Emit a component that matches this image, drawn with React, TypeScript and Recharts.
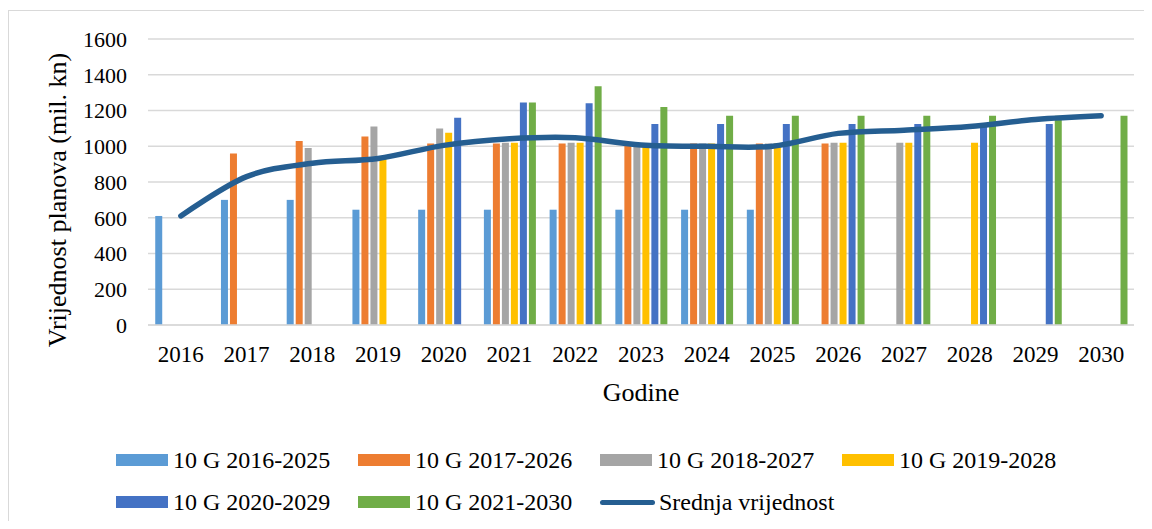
import { ComposedChart, Bar, Line, XAxis, YAxis, CartesianGrid } from 'recharts';

const FONT = "'Liberation Serif', 'Times New Roman', serif";

const years = ['2016', '2017', '2018', '2019', '2020', '2021', '2022', '2023', '2024', '2025', '2026', '2027', '2028', '2029', '2030'];
const yTicks = [0, 200, 400, 600, 800, 1000, 1200, 1400, 1600];

const plan2016 = [610, 700, 700, 645, 645, 645, 645, 645, 645, 645, null, null, null, null, null];
const plan2017 = [null, 960, 1030, 1055, 1015, 1015, 1015, 1015, 1015, 1015, 1015, null, null, null, null];
const plan2018 = [null, null, 990, 1110, 1100, 1020, 1020, 1015, 1015, 1015, 1020, 1020, null, null, null];
const plan2019 = [null, null, null, 930, 1075, 1020, 1020, 1015, 1015, 1015, 1020, 1020, 1020, null, null];
const plan2020 = [null, null, null, null, 1160, 1245, 1240, 1125, 1125, 1125, 1125, 1125, 1125, 1125, null];
const plan2021 = [null, null, null, null, null, 1245, 1335, 1220, 1170, 1170, 1170, 1170, 1170, 1170, 1170];
const average = [610, 830, 905, 932, 1005, 1042, 1048, 1007, 1000, 1000, 1072, 1090, 1110, 1150, 1171];

// bar series: key, legend name, colour
const barSeries = [
  { key: 'p2016', name: '10 G 2016-2025', color: '#5B9BD5', values: plan2016 },
  { key: 'p2017', name: '10 G 2017-2026', color: '#ED7D31', values: plan2017 },
  { key: 'p2018', name: '10 G 2018-2027', color: '#A5A5A5', values: plan2018 },
  { key: 'p2019', name: '10 G 2019-2028', color: '#FFC000', values: plan2019 },
  { key: 'p2020', name: '10 G 2020-2029', color: '#4472C4', values: plan2020 },
  { key: 'p2021', name: '10 G 2021-2030', color: '#70AD47', values: plan2021 },
];
const LINE_NAME = 'Srednja vrijednost';
const LINE_COLOR = '#255E91';

const chartData = years.map((year, i) => {
  const row: Record<string, string | number | null> = { year, avg: average[i] };
  barSeries.forEach((s) => {
    row[s.key] = s.values[i];
  });
  return row;
});

// Catmull-Rom style smoothing (like Excel's "smoothed line"), as a d3-style curve factory
function smoothCurve(context: any) {
  const k = 1 / 6;
  let x0 = NaN, y0 = NaN, x1 = NaN, y1 = NaN, x2 = NaN, y2 = NaN;
  let pt = 0;
  let line = NaN;
  const seg = (x: number, y: number) => {
    context.bezierCurveTo(x1 + k * (x2 - x0), y1 + k * (y2 - y0), x2 + k * (x1 - x), y2 + k * (y1 - y), x2, y2);
  };
  return {
    areaStart() { line = 0; },
    areaEnd() { line = NaN; },
    lineStart() { x0 = x1 = x2 = y0 = y1 = y2 = NaN; pt = 0; },
    lineEnd() {
      if (pt === 2) context.lineTo(x2, y2);
      else if (pt === 3) seg(x1, y1);
      if (line || (line !== 0 && pt === 1)) context.closePath();
      line = 1 - line;
    },
    point(x: number, y: number) {
      x = +x; y = +y;
      if (pt === 0) {
        pt = 1;
        if (line) context.lineTo(x, y);
        else context.moveTo(x, y);
      } else if (pt === 1) {
        pt = 2;
        x1 = x; y1 = y;
      } else {
        pt = 3;
        seg(x, y);
      }
      x0 = x1; x1 = x2; x2 = x;
      y0 = y1; y1 = y2; y2 = y;
    },
  };
}

function renderYTitle(props: any) {
  const { viewBox } = props;
  const cx = viewBox.x + 48.5;
  const cy = viewBox.y + viewBox.height / 2 + 18;
  return (
    <text
      x={cx}
      y={cy}
      transform={`rotate(-90 ${cx} ${cy})`}
      textAnchor="middle"
      dominantBaseline="central"
      fontSize={26}
      fontFamily={FONT}
      fill="#000"
    >
      Vrijednost planova (mil. kn)
    </text>
  );
}

function renderXTitle(props: any) {
  const { viewBox } = props;
  return (
    <text
      x={viewBox.x + viewBox.width / 2}
      y={viewBox.y + 75.6}
      textAnchor="middle"
      fontSize={26}
      fontFamily={FONT}
      fill="#000"
    >
      Godine
    </text>
  );
}

function ChartLegend() {
  const items = [
    ...barSeries.map((s) => ({ name: s.name, color: s.color, line: false })),
    { name: LINE_NAME, color: LINE_COLOR, line: true },
  ];
  return (
    <div
      style={{
        position: 'absolute',
        left: 107,
        top: 437,
        width: 968,
        display: 'flex',
        flexWrap: 'wrap',
        rowGap: 18,
        fontFamily: FONT,
        fontSize: 24,
        lineHeight: '24px',
        color: '#000',
      }}
    >
      {items.map((it) => (
        <div key={it.name} style={{ width: 242, height: 24, display: 'flex', alignItems: 'center' }}>
          {it.line ? (
            <span style={{ width: 55, height: 5, borderRadius: 3, background: it.color, marginRight: 4 }} />
          ) : (
            <span style={{ width: 52, height: 12, background: it.color, marginRight: 5 }} />
          )}
          <span style={{ whiteSpace: 'nowrap' }}>{it.name}</span>
        </div>
      ))}
    </div>
  );
}

export default function App() {
  return (
    <div style={{ marginTop: 2, width: 1144, height: 511, overflow: 'hidden' }}>
      <div
        style={{
          position: 'relative',
          width: 1200,
          height: 600,
          border: '1px solid #d9d9d9',
          boxSizing: 'border-box',
          background: '#fff',
        }}
      >
        <ComposedChart
          width={1140}
          height={518}
          data={chartData}
          margin={{ top: 28, right: 15, bottom: 114, left: 0 }}
          barCategoryGap="11%"
          barGap={2}
          style={{ fontFamily: FONT }}
        >
          <CartesianGrid vertical={false} stroke="#d9d9d9" strokeWidth={1.5} />
          <XAxis
            dataKey="year"
            interval={0}
            height={90}
            tickLine={false}
            tickSize={0}
            tickMargin={21}
            axisLine={{ stroke: '#d9d9d9', strokeWidth: 1.5 }}
            tick={{ fontSize: 23, fill: '#000', fontFamily: FONT }}
            label={renderXTitle}
          />
          <YAxis
            width={139}
            domain={[0, 1600]}
            ticks={yTicks}
            interval={0}
            axisLine={false}
            tickLine={false}
            tickSize={0}
            tickMargin={21}
            tick={{ fontSize: 22, fill: '#000', fontFamily: FONT }}
            label={renderYTitle}
          />
          {barSeries.map((s) => (
            <Bar key={s.key} dataKey={s.key} name={s.name} fill={s.color} isAnimationActive={false} />
          ))}
          <Line
            type={smoothCurve as any}
            dataKey="avg"
            name={LINE_NAME}
            stroke={LINE_COLOR}
            strokeWidth={5.5}
            strokeLinecap="round"
            strokeLinejoin="round"
            dot={false}
            activeDot={false}
            isAnimationActive={false}
          />
        </ComposedChart>
        <ChartLegend />
      </div>
    </div>
  );
}
